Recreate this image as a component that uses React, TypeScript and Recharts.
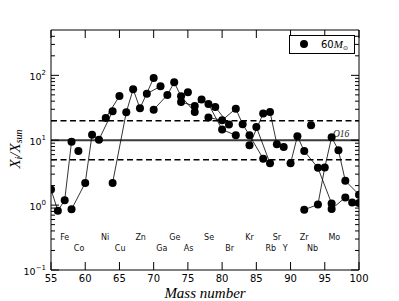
import React from 'react';
import { ComposedChart, Line, XAxis, YAxis, ReferenceLine, Scatter, Legend } from 'recharts';

// Isotope chains (mass number A, overproduction X_i/X_sun)
const feChain = [{ A: 55, v: 1.74 }, { A: 56, v: 0.82 }, { A: 57, v: 1.19 }, { A: 58, v: 9.5 }];
const coChain = [{ A: 59, v: 6.8 }];
const niChain = [{ A: 58, v: 0.86 }, { A: 60, v: 2.2 }, { A: 61, v: 12.2 }, { A: 62, v: 10.2 }, { A: 64, v: 27.9 }];
const cuChain = [{ A: 63, v: 22 }, { A: 65, v: 48 }];
const znChain = [{ A: 64, v: 2.2 }, { A: 66, v: 27 }, { A: 67, v: 61 }, { A: 68, v: 31 }, { A: 70, v: 91 }];
const gaChain = [{ A: 69, v: 52 }, { A: 71, v: 68 }];
const geChain = [{ A: 70, v: 29.6 }, { A: 72, v: 49.8 }, { A: 73, v: 78 }, { A: 74, v: 47.5 }, { A: 76, v: 27.3 }];
const asChain = [{ A: 75, v: 55 }];
const seChain = [{ A: 74, v: 38.8 }, { A: 76, v: 33.7 }, { A: 77, v: 42.3 }, { A: 78, v: 36.2 }, { A: 80, v: 14.6 }, { A: 82, v: 11.9 }];
const brChain = [{ A: 79, v: 32.5 }, { A: 81, v: 17.5 }];
const krChain = [{ A: 78, v: 22.4 }, { A: 80, v: 20.3 }, { A: 82, v: 30.7 }, { A: 83, v: 17.6 }, { A: 84, v: 11.9 }, { A: 86, v: 5.2 }];
const rbChain = [{ A: 85, v: 16 }, { A: 87, v: 4.4 }];
const srChain = [{ A: 84, v: 8.4 }, { A: 86, v: 25.8 }, { A: 87, v: 27.3 }, { A: 88, v: 8.7 }];
const yChain = [{ A: 89, v: 7.9 }];
const zrChain = [{ A: 90, v: 4.4 }, { A: 91, v: 11.5 }, { A: 92, v: 6.8 }, { A: 94, v: 3.75 }, { A: 96, v: 1.06 }];
const nbChain = [{ A: 93, v: 17 }];
const moChain = [{ A: 92, v: 0.85 }, { A: 94, v: 1.02 }, { A: 95, v: 3.8 }, { A: 96, v: 11.1 }, { A: 97, v: 7.0 }, { A: 98, v: 2.37 }, { A: 100, v: 1.45 }];
const ruChain = [{ A: 96, v: 0.87 }, { A: 98, v: 1.31 }, { A: 99, v: 1.1 }, { A: 100, v: 1.08 }];

const chains = [feChain, coChain, niChain, cuChain, znChain, gaChain, geChain, asChain, seChain, brChain, krChain, rbChain, srChain, yChain, zrChain, nbChain, moChain, ruChain];

// Element name labels
const elemNames = ['Fe', 'Co', 'Ni', 'Cu', 'Zn', 'Ga', 'Ge', 'As', 'Se', 'Br', 'Kr', 'Rb', 'Sr', 'Y', 'Zr', 'Nb', 'Mo'];
const elemMass = [57.0, 59.1, 62.9, 65.1, 68.1, 71.2, 73.1, 75.1, 78.1, 81.1, 84.0, 87.1, 88.0, 89.2, 92.0, 93.2, 96.4];
const elemRow = [0, 1, 0, 1, 0, 1, 0, 1, 0, 1, 0, 1, 0, 1, 0, 1, 0];
const rowValues = [0.322, 0.218];
const elemLabels = elemNames.map((name, i) => ({ A: elemMass[i], v: rowValues[elemRow[i]], name }));

const noteLabels = [{ A: 96.2, v: 11.3, name: 'O16' }];

const xTicks = [55, 60, 65, 70, 75, 80, 85, 90, 95, 100];
const yTicks = [0.1, 0.2, 0.3, 0.4, 0.5, 0.6, 0.7, 0.8, 0.9, 1, 2, 3, 4, 5, 6, 7, 8, 9, 10, 20, 30, 40, 50, 60, 70, 80, 90, 100, 200, 300, 400];

const O16_LEVEL = 10;
const UPPER_LEVEL = 20;
const LOWER_LEVEL = 5;

const isMajor = (v: number) => Math.abs(Math.log10(v) - Math.round(Math.log10(v))) < 1e-6;

const BottomTick = (p: any) => {
  const { x, y, payload } = p;
  return (
    <g>
      <line x1={x} x2={x} y1={y} y2={y - 8} stroke="#000" strokeWidth={1} />
      <text x={x} y={y + 12} textAnchor="middle" fontSize={10} fontFamily="DejaVu Sans" fill="#000">{payload.value}</text>
    </g>
  );
};

const TopTick = (p: any) => {
  const { x, y } = p;
  return <line x1={x} x2={x} y1={y} y2={y + 8} stroke="#000" strokeWidth={1} />;
};

const LeftTick = (p: any) => {
  const { x, y, payload } = p;
  const v = payload.value;
  const major = isMajor(v);
  const e = Math.round(Math.log10(v));
  return (
    <g>
      <line x1={x} x2={x + (major ? 8 : 4)} y1={y} y2={y} stroke="#000" strokeWidth={1} />
      {major && (
        <text x={x - 5} y={y + 4.5} textAnchor="end" fontSize={9.5} fontFamily="DejaVu Sans" fill="#000">
          10<tspan fontSize={7} dy={-4.5}>{e < 0 ? '\u2212' + Math.abs(e) : String(e)}</tspan>
        </text>
      )}
    </g>
  );
};

const RightTick = (p: any) => {
  const { x, y, payload } = p;
  const major = isMajor(payload.value);
  return <line x1={x} x2={x - (major ? 8 : 4)} y1={y} y2={y} stroke="#000" strokeWidth={1} />;
};

const YLabel = (p: any) => {
  const vb = p.viewBox || {};
  const cx = (vb.x ?? 0) + 7;
  const cy = 141;
  return (
    <text transform={`rotate(-90, ${cx}, ${cy})`} x={cx} y={cy} textAnchor="middle" dominantBaseline="central" fontFamily="Liberation Serif" fontStyle="italic" fontSize={15} fill="#000">
      X<tspan fontSize={10} dy={3}>i</tspan><tspan fontSize={15} dy={-3}>/X</tspan><tspan fontSize={10} dy={3}>sun</tspan>
    </text>
  );
};

const XLabel = (p: any) => {
  const vb = p.viewBox || {};
  return (
    <text x={(vb.x ?? 0) + (vb.width ?? 0) / 2} y={(vb.y ?? 0) + 28} textAnchor="middle" fontFamily="Liberation Serif" fontStyle="italic" fontSize={15} fill="#000">
      Mass number
    </text>
  );
};

const ElemShape = (p: any) => (
  <text x={p.cx} y={p.cy} textAnchor="middle" dominantBaseline="central" fontSize={8} fontFamily="DejaVu Sans" fill="#111">
    {p.payload.name}
  </text>
);

const NoteShape = (p: any) => (
  <text x={p.cx} y={p.cy} textAnchor="start" fontSize={9.5} fontFamily="Liberation Serif" fontStyle="italic" fill="#222">
    {p.payload.name}
  </text>
);

const LegendBox = () => (
  <div style={{ width: 66, height: 19, boxSizing: 'border-box', border: '1px solid #000', background: '#fff', position: 'relative' }}>
    <svg width={64} height={17} style={{ position: 'absolute', left: 0, top: 0 }}>
      <circle cx={14} cy={8} r={4} fill="#000" />
      <text x={31} y={12} fontSize={10} fontFamily="DejaVu Sans" fill="#000">
        60<tspan fontFamily="Liberation Serif" fontStyle="italic" fontSize={11}>M</tspan>
        <tspan fontSize={6} dy={2}>{'\u2299'}</tspan>
      </text>
    </svg>
  </div>
);

export default function App() {
  return (
    <div style={{ width: 391, height: 293 }}>
      <ComposedChart width={391} height={293} margin={{ top: 0, right: 0, bottom: 0, left: 0 }}>
        <XAxis xAxisId={0} type="number" dataKey="A" domain={[55, 100]} ticks={xTicks} interval={0} allowDataOverflow
          height={31} tickSize={0} tickMargin={0} tickLine={false} axisLine={{ stroke: '#000', strokeWidth: 1 }} tick={BottomTick} label={XLabel} />
        <XAxis xAxisId="top" orientation="top" type="number" dataKey="A" domain={[55, 100]} ticks={xTicks} interval={0} allowDataOverflow
          height={22} tickSize={0} tickMargin={0} tickLine={false} axisLine={{ stroke: '#000', strokeWidth: 1 }} tick={TopTick} />
        <YAxis yAxisId={0} type="number" dataKey="v" scale="log" domain={[0.1, 500]} ticks={yTicks} interval={0} allowDataOverflow
          width={43} tickSize={0} tickMargin={0} tickLine={false} axisLine={{ stroke: '#000', strokeWidth: 1 }} tick={LeftTick} label={YLabel} />
        <YAxis yAxisId="right" orientation="right" type="number" dataKey="v" scale="log" domain={[0.1, 500]} ticks={yTicks} interval={0} allowDataOverflow
          width={40} tickSize={0} tickMargin={0} tickLine={false} axisLine={{ stroke: '#000', strokeWidth: 1 }} tick={RightTick} />
        <ReferenceLine y={O16_LEVEL} stroke="#3a3a3a" strokeWidth={2} />
        <ReferenceLine y={UPPER_LEVEL} stroke="#000" strokeWidth={1.5} strokeDasharray="6 3.5" />
        <ReferenceLine y={LOWER_LEVEL} stroke="#000" strokeWidth={1.5} strokeDasharray="6 3.5" />
        {chains.map((c, i) => (
          <Line key={i} data={c} dataKey="v" type="linear" stroke="#000" strokeWidth={0.8}
            dot={{ r: 4, fill: '#000', stroke: '#000', strokeWidth: 0 }} activeDot={false} isAnimationActive={false} legendType="none" />
        ))}
        <Scatter data={elemLabels} xAxisId="top" yAxisId="right" shape={ElemShape} isAnimationActive={false} legendType="none" />
        <Scatter data={noteLabels} xAxisId="top" yAxisId="right" shape={NoteShape} isAnimationActive={false} legendType="none" />
        <Legend layout="vertical" align="center" verticalAlign="middle"
          wrapperStyle={{ position: 'absolute', top: 27, left: 281, width: 66, height: 19 }} content={LegendBox} />
      </ComposedChart>
    </div>
  );
}
